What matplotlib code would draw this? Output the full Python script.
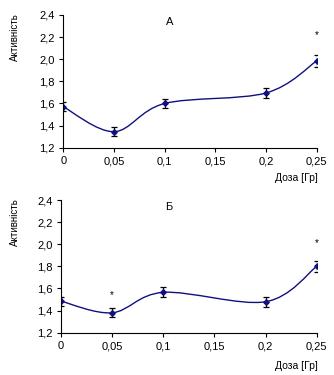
import numpy as np
import matplotlib
matplotlib.use("Agg")
import matplotlib.pyplot as plt
from matplotlib.path import Path
from matplotlib.patches import PathPatch

plt.rcParams["font.family"] = ["Liberation Sans", "DejaVu Sans"]

dose = [0, 0.05, 0.1, 0.2, 0.25]
act_a = [1.57, 1.345, 1.60, 1.695, 1.985]
err_a = [0.04, 0.04, 0.04, 0.045, 0.055]
act_b = [1.485, 1.38, 1.565, 1.48, 1.80]
err_b = [0.04, 0.04, 0.045, 0.045, 0.05]
star_a = [(0.25, 2.22)]
star_b = [(0.05, 1.54), (0.25, 2.01)]
xticks = [0, 0.05, 0.1, 0.15, 0.2, 0.25]
xticklabels = ["0", "0,05", "0,1", "0,15", "0,2", "0,25"]
yticks = [1.2, 1.4, 1.6, 1.8, 2.0, 2.2, 2.4]
yticklabels = ["1,2", "1,4", "1,6", "1,8", "2,0", "2,2", "2,4"]

NAVY = "#101080"
W, H = 334, 375


def smooth_path(x, y):
    # Excel-style smoothed line: Catmull-Rom segments as cubic Bezier
    p = np.column_stack([x, y])
    pts = np.vstack([p[0], p, p[-1]])
    verts = [p[0]]
    codes = [Path.MOVETO]
    for i in range(1, len(pts) - 2):
        c1 = pts[i] + (pts[i + 1] - pts[i - 1]) / 6
        c2 = pts[i + 1] - (pts[i + 2] - pts[i]) / 6
        verts += [c1, c2, pts[i + 1]]
        codes += [Path.CURVE4] * 3
    return Path(verts, codes)


def panel(rect, act, err, stars, title, xlab_y):
    ax = fig.add_axes(rect)
    ax.add_patch(PathPatch(smooth_path(dose, act), fill=False, edgecolor=NAVY, lw=1.0))
    ax.errorbar(dose, act, yerr=err, fmt="D", color=NAVY, ms=2.8, ecolor="black",
                elinewidth=0.9, capsize=2.5, capthick=0.9)
    for sx, sy in stars:
        ax.text(sx, sy, "*", ha="center", va="center", fontsize=7)
    ax.set_xlim(0, 0.25)
    ax.set_ylim(1.2, 2.4)
    ax.set_xticks(xticks)
    ax.set_xticklabels(xticklabels)
    ax.set_yticks(yticks)
    ax.set_yticklabels(yticklabels)
    for s in ["top", "right"]:
        ax.spines[s].set_visible(False)
    for s in ["left", "bottom"]:
        ax.spines[s].set_linewidth(0.8)
    ax.tick_params(labelsize=8, length=3, width=0.8, direction="out", pad=3)
    ax.text(0.42, 0.985, title, transform=ax.transAxes, ha="center", va="top", fontsize=8)
    fig.text(15 / W, 1 - (rect_top(rect) + 22) / H, "Активність", rotation=90,
             ha="center", va="center", fontsize=7)
    fig.text(318 / W, 1 - xlab_y / H, "Доза [Гр]", ha="right", va="center", fontsize=7.5)
    ax.patch.set_visible(False)
    return ax


def rect_top(rect):
    return (1 - rect[1] - rect[3]) * H


fig = plt.figure(figsize=(W / 100, H / 100), dpi=100)
panel([63.3 / W, 227.3 / H, 253.4 / W, 132.7 / H], act_a, err_a, star_a, "А", 178)
panel([61 / W, 42.3 / H, 255.7 / W, 132.7 / H], act_b, err_b, star_b, "Б", 366)
fig.savefig("out.png", dpi=100)
